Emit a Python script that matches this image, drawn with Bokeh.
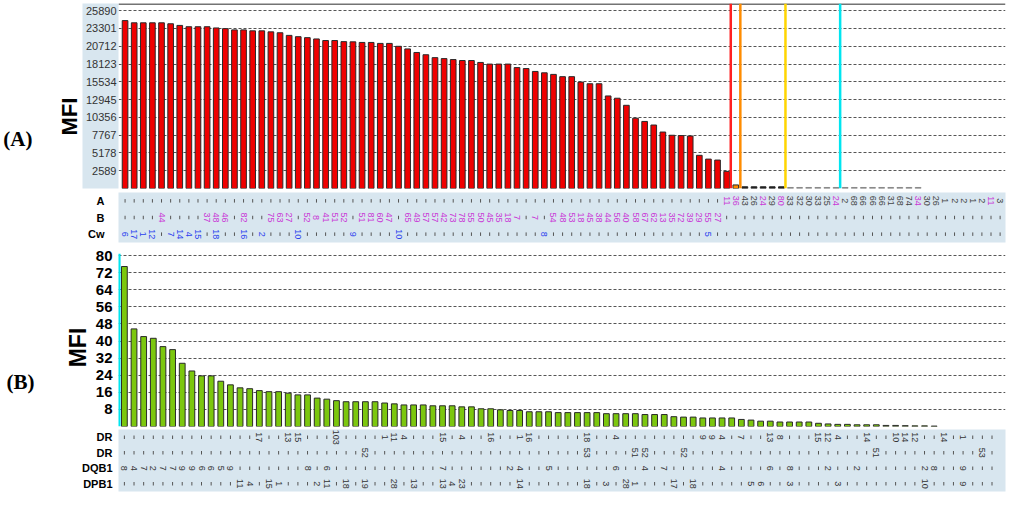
from math import pi
from bokeh.plotting import figure
from bokeh.models import (Range1d, FixedTicker, Span, ColumnDataSource,
                          NumeralTickFormatter, LinearAxis)
from bokeh.layouts import column
from bokeh.embed import file_html
from bokeh.resources import INLINE
from bokeh.core.properties import value

_ = ""

# ---------------- Panel A data (class I beads) ----------------
mfi_A = [24440, 24120, 24120, 24120, 24120, 23980, 23740, 23550, 23550, 23550,
         23370, 23270, 23090, 23090, 22950, 22950, 22800, 22670, 22290, 22100,
         21960, 21770, 21540, 21540, 21380, 21350, 21260, 21260, 21120, 21120,
         20700, 20320, 19800, 19470, 19050, 18910, 18770, 18630, 18630, 18350,
         18110, 18110, 18110, 17600, 17460, 17040, 16840, 16610, 16280, 16280,
         15490, 15250, 15250, 13470, 13140, 12110, 10230, 9760, 9240, 8220,
         7750, 7700, 7640, 4830, 4280, 4140, 2490, 520, 250, 250,
         250, 250, 250, 150, 150, 150, 150, 150, 150, 150,
         150, 150, 150, 150, 150, 150, 150, 150]
yticks_A = [2589, 5178, 7767, 10356, 12945, 15534, 18123, 20712, 23301, 25890]
cutoff_cols_A = [66.45, 67.5, 72.45, 78.45]
cutoff_colors_A = ["#ff2020", "#ff8c00", "#ffd500", "#00e5f0"]

tabA_rowA = [_] * 66 + ["11", "36", "43", "26", "24", "29", "80", "33", "32", "30",
                        "33", "25", "24", "2", "68", "66", "66", "66", "31", "68",
                        "74", "34", "30", "26", "1", "2", "2", "1", "2", "11", "3"]
tabA_rowA_magenta = [66, 67, 70, 72, 78, 87, 95]
tabA_rowB = [_, _, _, _, "44", _, _, _, _, "37",
             "48", "46", _, "82", _, _, "75", "63", "27", _,
             "52", "8", "41", "51", "52", _, "51", "81", "60", "47",
             _, "65", "49", "57", "57", "42", "73", "78", "55", "50",
             "45", "35", "18", "7", _, "7", _, "54", "48", "53",
             "18", "45", "38", "44", "56", "40", "58", "67", "62", "13",
             "35", "72", "39", "29", "55", "27", _, _, _, _] + [_] * 27
tabA_rowCw = ["6", "17", "1", "12", _, "7", "14", "4", "15", _,
              "18", _, _, "16", _, "2", _, _, _, "10",
              _, _, _, _, _, "9", _, _, _, _,
              "10", _, _, _, _, _, _, _, _, _,
              _, _, _, _, _, _, "8", _, _, _] + [_] * 14 + ["5"] + [_] * 32
tabA_row_names = ["A", "B", "Cw"]

# ---------------- Panel B data (class II beads) ----------------
mfi_B = [74.9, 45.7, 42.1, 41.3, 37.4, 36.0, 29.6, 26.0, 23.7, 23.7,
         21.2, 19.5, 18.1, 17.7, 16.8, 16.3, 16.3, 15.6, 14.8, 14.8,
         13.3, 12.8, 12.1, 11.6, 11.6, 11.6, 11.6, 11.0, 10.6, 10.1,
         10.1, 10.1, 9.7, 9.7, 9.7, 9.2, 9.2, 8.3, 8.3, 7.8,
         7.5, 7.5, 6.9, 6.9, 6.9, 6.5, 6.5, 6.5, 6.5, 6.5,
         6.0, 6.0, 6.0, 6.0, 5.6, 5.6, 5.6, 4.6, 4.4, 4.4,
         4.0, 4.0, 4.0, 4.0, 3.3, 3.0, 2.5, 2.5, 2.1, 2.1,
         2.1, 2.1, 1.5, 1.2, 1.0, 1.0, 0.8, 0.8, 0.8, 0.5,
         0.5, 0.4, 0.3, 0.3, 0.2]
yticks_B = [8, 16, 24, 32, 40, 48, 56, 64, 72, 80]

tabB_DR1 = [_, _, _, _, _, _, _, _, _, _,
            _, _, _, _, "17", _, _, "13", "15", _,
            _, _, "103", _, _, _, _, "1", "11", "4",
            _, _, _, "15", _, "4", _, _, "16", _,
            _, "1", "16", _, _, _, _, _, "18", _,
            _, "4", _, _, _, _, _, _, _, _,
            "9", "9", "4", _, "7", _, _, "13", "8", _,
            _, _, "15", "12", "4", _, _, "14", _, _,
            "10", "14", "12", _, _, "14", _, "1", _, _, _]
tabB_DR2 = [_] * 25 + ["52"] + [_] * 22 + ["53"] + [_] * 4 + ["51", "52", _, _, _, "52"] \
           + [_] * 19 + ["51"] + [_] * 10 + ["53", _]
tabB_DQB1 = ["8", "4", "7", "2", "7", "7", "9", "9", "6", "6",
             "5", "9", _, _, _, _, _, _, _, "8",
             _, "6", _, _, _, _, _, _, _, _,
             _, _, _, "7", _, _, _, _, _, _,
             "2", "4", _, _, "5", _, _, _, _, _,
             _, "6", _, _, "4", _, "7", _, _, _,
             _, _, "4", _, _, _, _, "6", _, "8",
             _, _, _, "2", _, _, "2", _, _, _,
             _, _, _, "2", "8", _, _, "9", _, _, _]
tabB_DPB1 = [_, _, _, _, _, _, _, _, _, _,
             _, _, "11", "4", _, "15", "1", _, _, _,
             "2", "11", _, "18", _, "19", _, _, "28", _,
             "13", _, _, "13", "4", "23", _, _, _, _,
             _, "14", _, _, _, _, _, _, "18", _,
             "3", _, "28", "1", _, _, _, "17", _, "18",
             _, _, _, _, _, "5", "6", _, _, "3",
             _, _, _, _, "3", _, _, _, _, _,
             _, _, _, "10", _, _, _, "9", _, _, _]
tabB_row_names = ["DR", "DR", "DQB1", "DPB1"]

# ---------------- styling ----------------
FONT = "Liberation Sans"
SERIF = "Liberation Serif"
W = 1008
BAND = "#d8e6ef"
MAG = "#c936d6"
BLUE = "#2a40ee"
GRID = "#555555"


def no_ticks(ax):
    ax.axis_line_color = None
    ax.major_tick_line_color = None
    ax.minor_tick_line_color = None
    ax.major_tick_out = 0
    ax.major_tick_in = 0
    ax.minor_tick_out = 0
    ax.minor_tick_in = 0


def base_fig(height, xr, yr, left, right, top, bottom, bg="white"):
    f = figure(width=W, height=height, x_range=xr, y_range=yr,
               output_backend="svg", toolbar_location=None, x_axis_location=None,
               min_border_left=left, min_border_right=right,
               min_border_top=top, min_border_bottom=bottom,
               background_fill_color=bg, border_fill_color="white")
    f.outline_line_color = None
    f.xgrid.visible = False
    no_ticks(f.yaxis[0])
    return f


def side_label(p, y, text, font, size, standoff, orientation):
    ax = LinearAxis(ticker=FixedTicker(ticks=[y]))
    ax.major_label_overrides = {y: text}
    ax.major_label_orientation = orientation
    ax.major_label_text_font = font
    ax.major_label_text_font_style = "bold"
    ax.major_label_text_font_size = size
    ax.major_label_text_color = "black"
    ax.major_label_standoff = standoff
    no_ticks(ax)
    p.add_layout(ax, "left")


def add_table(t, rows, colors, names, standoff):
    xs, ys, txt, cl, dx, dy = [], [], [], [], [], []
    n = len(rows)
    for r, (labels, colr) in enumerate(zip(rows, colors)):
        yv = n - 1 - r
        for i, s in enumerate(labels):
            if s:
                xs.append(i); ys.append(yv); txt.append(s)
                cl.append(colr[i] if isinstance(colr, list) else colr)
            else:
                dx.append(i); dy.append(yv)
    t.scatter(dx, dy, marker="dash", angle=pi / 2, size=3.5, line_color="#555555", line_width=1)
    src = ColumnDataSource(dict(x=xs, y=ys, text=txt, color=cl))
    t.text("x", "y", text="text", source=src, angle=-pi / 2, text_color="color",
           text_font=value(FONT), text_font_size="9px",
           text_align="center", text_baseline="middle")
    ax = t.yaxis[0]
    ax.ticker = FixedTicker(ticks=list(range(n)))
    ax.major_label_overrides = {n - 1 - r: name for r, name in enumerate(names)}
    ax.major_label_text_font = FONT
    ax.major_label_text_font_style = "bold"
    ax.major_label_text_font_size = "11px"
    ax.major_label_text_color = "black"
    ax.major_label_standoff = standoff
    t.ygrid.visible = False


# ---------------- Panel A ----------------
xrA = Range1d(-0.72, 96.59)
pA = base_fig(190, xrA, Range1d(0, 26930), 113, 3, 3, 2)
nA = len(mfi_A)
colA = ["#f00000"] * 67 + ["#ff8c00"] + ["#222222"] * 5 + ["#888888"] * (nA - 73)
lineA = ["#2a2a2a"] * 68 + ["#222222"] * 5 + ["#888888"] * (nA - 73)
pA.vbar(x=list(range(nA)), top=mfi_A, width=0.62, fill_color=colA, line_color=lineA, line_width=1)
ay = pA.yaxis[0]
ay.ticker = FixedTicker(ticks=yticks_A)
ay.formatter = NumeralTickFormatter(format="0")
ay.major_label_text_font = FONT
ay.major_label_text_font_size = "11px"
ay.major_label_text_color = "#333333"
ay.major_label_standoff = 2
try:
    ay.background_fill_color = BAND
except Exception:
    pass
pA.ygrid.grid_line_color = GRID
pA.ygrid.grid_line_dash = "3 2"
pA.ygrid.grid_line_width = 1
pA.add_layout(Span(location=26850, dimension="width", line_color="#444444", line_width=1.5))
for c, colr in zip(cutoff_cols_A, cutoff_colors_A):
    pA.add_layout(Span(location=c, dimension="height", line_color=colr, line_width=2.5))
side_label(pA, 10470, "MFI", FONT, "22px", 0, "parallel")
side_label(pA, 7230, "(A)", SERIF, "21px", 22, "horizontal")

tA = base_fig(54, xrA, Range1d(-0.5, 2.5), 113, 3, 2, 2, bg=BAND)
rowA_colors = [MAG if i in tabA_rowA_magenta else "#444444" for i in range(len(tabA_rowA))]
add_table(tA, [tabA_rowA, tabA_rowB, tabA_rowCw], [rowA_colors, MAG, BLUE], tabA_row_names, 14)

# ---------------- Panel B ----------------
xrB = Range1d(-0.61, 91.4)
pB = base_fig(183, xrB, Range1d(0, 81), 110, 3, 9, 1)
pB.vbar(x=list(range(len(mfi_B))), top=mfi_B, width=0.6, fill_color="#7cc70e",
        line_color="#2a2a2a", line_width=1)
by = pB.yaxis[0]
by.ticker = FixedTicker(ticks=yticks_B)
by.major_label_text_font = FONT
by.major_label_text_font_style = "bold"
by.major_label_text_font_size = "15px"
by.major_label_text_color = "black"
by.major_label_standoff = 6
pB.ygrid.grid_line_color = GRID
pB.ygrid.grid_line_dash = "3 2"
pB.ygrid.grid_line_width = 1
pB.add_layout(Span(location=-0.55, dimension="height", line_color="#00e5f0", line_width=3))
side_label(pB, 37, "MFI", FONT, "23px", 1, "parallel")
side_label(pB, 21, "(B)", SERIF, "21px", 28, "horizontal")

tB = base_fig(66, xrB, Range1d(-0.5, 3.5), 110, 3, 2, 2, bg=BAND)
add_table(tB, [tabB_DR1, tabB_DR2, tabB_DQB1, tabB_DPB1], ["#333333"] * 4, tabB_row_names, 6)

layout = column(pA, tA, pB, tB, spacing=0)
open("out.html", "w").write(file_html(layout, INLINE))
